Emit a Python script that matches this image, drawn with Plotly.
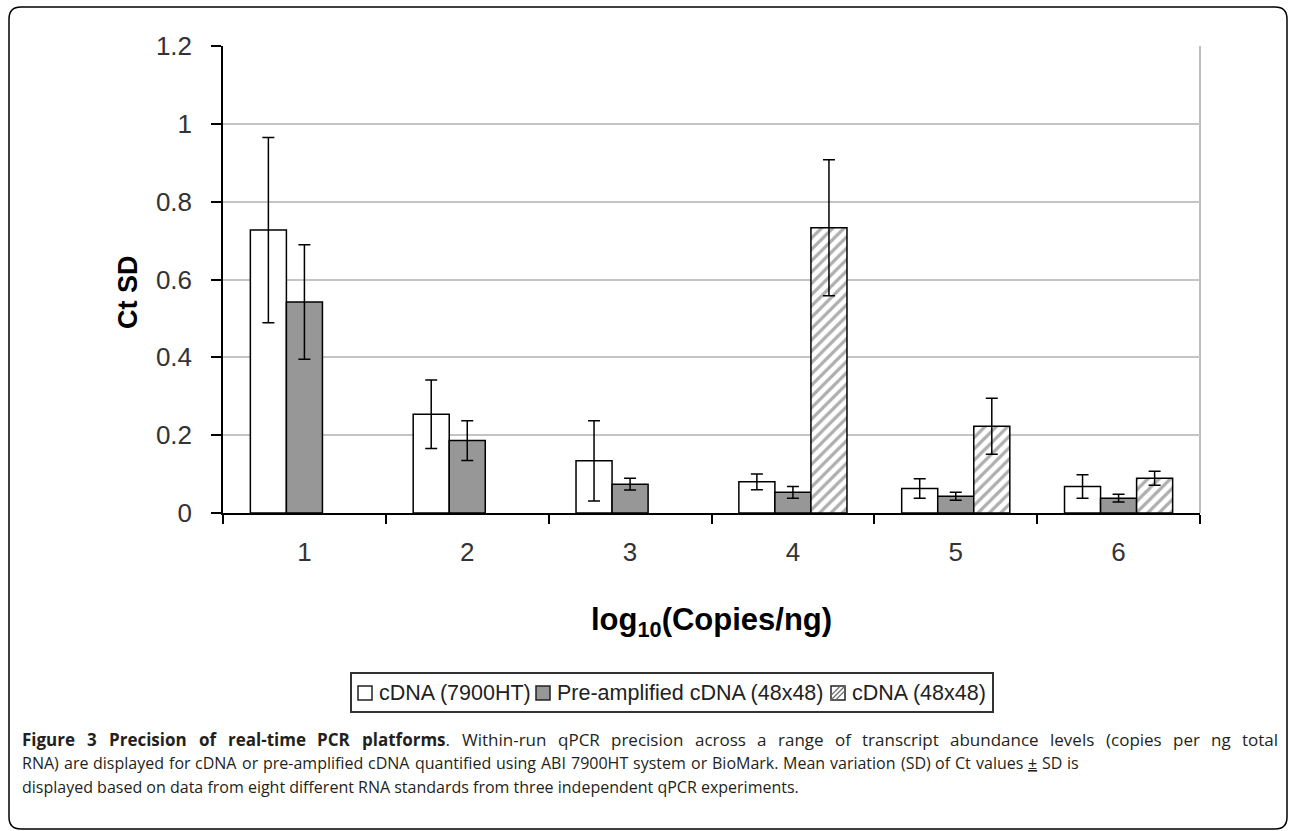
import plotly.graph_objects as go

# ---- data -------------------------------------------------------------
categories = ["1", "2", "3", "4", "5", "6"]

cdna_7900_mean = [0.727, 0.254, 0.134, 0.080, 0.063, 0.068]
cdna_7900_sd = [0.238, 0.088, 0.103, 0.020, 0.025, 0.030]

preamp_mean = [0.542, 0.186, 0.074, 0.053, 0.043, 0.038]
preamp_sd = [0.147, 0.051, 0.015, 0.015, 0.010, 0.010]

cdna_4848_mean = [None, None, None, 0.733, 0.223, 0.089]
cdna_4848_sd = [None, None, None, 0.175, 0.072, 0.018]

series_names = ["cDNA (7900HT)", "Pre-amplified cDNA (48x48)", "cDNA (48x48)"]
y_ticks = [0, 0.2, 0.4, 0.6, 0.8, 1.0, 1.2]

caption_bold = "Figure 3 Precision of real-time PCR platforms"
caption_lines = [
    ". Within-run qPCR precision across a range of transcript abundance levels "
    "(copies per ng total",
    "RNA) are displayed for cDNA or pre-amplified cDNA quantified using ABI 7900HT "
    "system or BioMark. Mean variation (SD) of Ct values ± SD is",
    "displayed based on data from eight different RNA standards from three "
    "independent qPCR experiments.",
]

# ---- page geometry (pixels) -------------------------------------------
W, H = 1290, 831
PL, PR, PT, PB = 223, 1200, 46, 513


def px(x):
    return (x - PL) / (PR - PL)


def py(y):
    return (PB - y) / (PB - PT)


err_style = dict(type="data", color="black", thickness=1.5, width=6, visible=True)
bar_line = dict(color="black", width=1.5)

fig = go.Figure()
fig.add_trace(go.Bar(
    x=categories, y=cdna_7900_mean, name=series_names[0],
    marker=dict(color="white", line=bar_line),
    error_y=dict(array=cdna_7900_sd, **err_style),
))
fig.add_trace(go.Bar(
    x=categories, y=preamp_mean, name=series_names[1],
    marker=dict(color="#979797", line=bar_line),
    error_y=dict(array=preamp_sd, **err_style),
))
fig.add_trace(go.Bar(
    x=categories, y=cdna_4848_mean, name=series_names[2],
    marker=dict(color="white", line=bar_line,
                pattern=dict(shape="/", fgcolor="#5e5e5e", bgcolor="white",
                             size=8, solidity=0.4)),
    error_y=dict(array=cdna_4848_sd, **err_style),
))

ARIAL = "Liberation Sans, Arial, sans-serif"
tick_font = dict(family=ARIAL, size=26, color="#333333")

fig.update_layout(
    width=W, height=H,
    margin=dict(l=PL, r=W - PR, t=PT, b=H - PB, autoexpand=False),
    paper_bgcolor="white", plot_bgcolor="white",
    barmode="group", bargap=0.336, bargroupgap=0,
    showlegend=False,
    xaxis=dict(
        type="category", showline=True, linecolor="black", linewidth=1.5,
        ticks="outside", ticklen=9, tickwidth=1.5, tickcolor="black",
        tickson="boundaries", showgrid=False, tickfont=tick_font,
        ticklabelstandoff=15,
    ),
    yaxis=dict(
        range=[0, 1.2], tickvals=y_ticks, showline=True, linecolor="black",
        linewidth=1.5, ticks="outside", ticklen=10, tickwidth=1.5,
        tickcolor="black", showgrid=True, gridcolor="#c4c4c4", gridwidth=1.5,
        zeroline=False, tickfont=tick_font, ticklabelstandoff=14,
    ),
)

shapes = []
# right edge of the plot area
shapes.append(dict(type="line", xref="paper", yref="paper", x0=1, x1=1, y0=0, y1=1,
                   line=dict(color="#a8a8a8", width=1.5), layer="below"))

# rounded outer frame
fx0, fy0, fx1, fy1, r = 9, 7, 1287, 829, 12
frame = (
    f"M {px(fx0 + r)} {py(fy0)} L {px(fx1 - r)} {py(fy0)} "
    f"Q {px(fx1)} {py(fy0)} {px(fx1)} {py(fy0 + r)} "
    f"L {px(fx1)} {py(fy1 - r)} Q {px(fx1)} {py(fy1)} {px(fx1 - r)} {py(fy1)} "
    f"L {px(fx0 + r)} {py(fy1)} Q {px(fx0)} {py(fy1)} {px(fx0)} {py(fy1 - r)} "
    f"L {px(fx0)} {py(fy0 + r)} Q {px(fx0)} {py(fy0)} {px(fx0 + r)} {py(fy0)} Z"
)
shapes.append(dict(type="path", xref="paper", yref="paper", path=frame,
                   line=dict(color="black", width=1.5)))

# legend box
lx0, ly0, lx1, ly1 = 351, 673, 993, 712
shapes.append(dict(type="rect", xref="paper", yref="paper",
                   x0=px(lx0), x1=px(lx1), y0=py(ly0), y1=py(ly1),
                   line=dict(color="#333333", width=2), fillcolor="white"))

annotations = []
legend_font = dict(family=ARIAL, size=21.5, color="#222222")
s = 14
cy = 693
top, bot = cy - s / 2, cy + s / 2
items = [(358, 377, "white", False), (536, 555, "#979797", False),
         (831, 850, "white", True)]
for (sx, tx, fill, hatch), name in zip(items, series_names):
    shapes.append(dict(type="rect", xref="paper", yref="paper",
                       x0=px(sx), x1=px(sx + s), y0=py(top), y1=py(bot),
                       line=dict(color="#222222", width=1.5), fillcolor=fill))
    if hatch:
        c = s / 3
        segs = [((sx, bot), (sx + s, top)),
                ((sx + c, bot), (sx + s, top + c)),
                ((sx, bot - c), (sx + s - c, top))]
        for (ax, ay), (bx, by) in segs:
            shapes.append(dict(type="line", xref="paper", yref="paper",
                               x0=px(ax), y0=py(ay), x1=px(bx), y1=py(by),
                               line=dict(color="#6a6a6a", width=1.2)))
    annotations.append(dict(xref="paper", yref="paper", x=px(tx), y=py(cy),
                            xanchor="left", yanchor="middle", text=name,
                            showarrow=False, font=legend_font))

# axis titles
annotations.append(dict(xref="paper", yref="paper", x=px(128), y=py(292),
                        text="<b>Ct SD</b>", textangle=-90, showarrow=False,
                        xanchor="center", yanchor="middle",
                        font=dict(family=ARIAL, size=27, color="black")))
annotations.append(dict(xref="paper", yref="paper", x=px(711), y=py(622),
                        text="<b>log<sub>10</sub>(Copies/ng)</b>", showarrow=False,
                        xanchor="center", yanchor="middle",
                        font=dict(family=ARIAL, size=31, color="black")))

# caption: Open Sans advance widths (em) used to space justified lines
OS_W = {
    " ": 0.26, "a": 0.556, "b": 0.613, "c": 0.476, "d": 0.613, "e": 0.561,
    "f": 0.339, "g": 0.548, "h": 0.614, "i": 0.253, "j": 0.253, "k": 0.525,
    "l": 0.253, "m": 0.93, "n": 0.614, "o": 0.604, "p": 0.613, "q": 0.613,
    "r": 0.408, "s": 0.477, "t": 0.353, "u": 0.614, "v": 0.501, "w": 0.778,
    "x": 0.524, "y": 0.502, "z": 0.477, "A": 0.633, "B": 0.648, "C": 0.631,
    "D": 0.729, "E": 0.549, "F": 0.511, "G": 0.728, "H": 0.742, "I": 0.295,
    "M": 0.903, "N": 0.76, "P": 0.604, "R": 0.617, "S": 0.54, "T": 0.547,
    "W": 0.946, "(": 0.282, ")": 0.282, "-": 0.322, ".": 0.266, "±": 0.572,
}
CAP_COLOR = "#231f20"


def text_w(t, size, bold=False):
    w = sum(OS_W.get(ch, 0.572) for ch in t) * size
    return w * (1.09 if bold else 1.0)


def justify(words, x0, x1, y, size):
    """Place words (markup, width) so the line spans x0..x1."""
    total = sum(w for _, w in words)
    gap = (x1 - x0 - total) / (len(words) - 1)
    x = x0
    for markup, w in words:
        annotations.append(dict(xref="paper", yref="paper", x=px(x), y=py(y),
                                xanchor="left", yanchor="middle", text=markup,
                                showarrow=False,
                                font=dict(family="Open Sans, sans-serif",
                                          size=size, color=CAP_COLOR)))
        x += w + gap


L1 = 17
line1 = [(f"<b>{w}</b>", text_w(w, L1, True)) for w in caption_bold.split(" ")]
rest1 = caption_lines[0].split(" ")
last_b, last_w = line1[-1]
line1[-1] = (last_b + rest1[0], last_w + text_w(rest1[0], L1))
line1 += [(w, text_w(w, L1)) for w in rest1[1:]]
justify(line1, 20, 1276, 739, L1)

L2 = 16
line2 = []
for w in caption_lines[1].split(" "):
    mk = "<span style=\"text-decoration:underline\">±</span>" if w == "±" else w
    line2.append((mk, text_w(w, L2)))
justify(line2, 20, 1077, 763, L2)

annotations.append(dict(xref="paper", yref="paper", x=px(20), y=py(787),
                        xanchor="left", yanchor="middle", text=caption_lines[2],
                        showarrow=False,
                        font=dict(family="Open Sans, sans-serif", size=16,
                                  color=CAP_COLOR)))

fig.update_layout(shapes=shapes, annotations=annotations)

fig.write_html("out.html")
